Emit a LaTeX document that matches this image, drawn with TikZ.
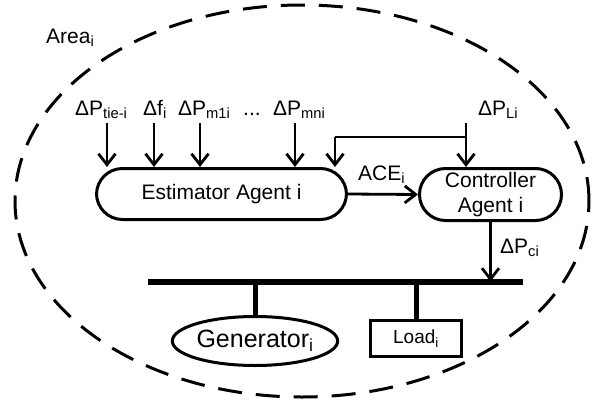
\documentclass[tikz,border=0pt]{standalone}
\usepackage{fontspec}
\setmainfont{Liberation Sans}
\usetikzlibrary{arrows.meta,shapes.geometric}

\tikzstyle{signal} = [font=\fontsize{21}{25}\selectfont,inner sep=0pt]
\tikzstyle{agent} = [draw,line width=3pt,rounded corners=26pt,align=center,font=\fontsize{21}{25}\selectfont]
\tikzstyle{arrowdecorate} = [line width=2.8pt,-{Straight Barb[length=11pt,width=17pt]}]
\tikzstyle{plain} = [line width=2.8pt]
\tikzstyle{bus} = [line width=6pt]
\tikzstyle{stub} = [line width=5pt]
\tikzstyle{area} = [line width=3pt,dash pattern=on 24pt off 14pt]

\begin{document}
\begin{tikzpicture}[x=1pt,y=-1pt]
    \useasboundingbox (0,0) rectangle (598,402);

    % area boundary
    \draw[area] (302,201) ellipse [x radius=287pt, y radius=196pt];
    \node[signal, anchor=base west] (area) at (46,43) {Area\textsubscript{i}};

    % agents
    \node[agent, minimum width=250pt, minimum height=51pt] (est) at (221.5,194) {Estimator Agent i};
    \node[agent, minimum width=142pt, minimum height=52pt] (ctrl) at (490.5,194.5) {Controller\\Agent i};

    % measured inputs
    \foreach \nodename/\txt/\lx/\ax in {
      tie/{ΔP\textsubscript{tie-i}}/75/107,
      f/{Δf\textsubscript{i}}/143/154,
      mone/{ΔP\textsubscript{m1i}}/178/200,
      mn/{ΔP\textsubscript{mni}}/273/295}
    {
      \node[signal, anchor=base west] (\nodename) at (\lx,115) {\txt};
      \coordinate (\nodename in) at (\ax,123);
      \draw[arrowdecorate] (\nodename in) -- (\nodename in |- est.north);
    }
    \node[signal, anchor=base west] (dots) at (243,115) {...};

    % load change goes to both agents
    \node[signal, anchor=base west] (li) at (478,115) {ΔP\textsubscript{Li}};
    \coordinate (li in) at (466,123);
    \coordinate (split) at (466,137);
    \coordinate (fb) at (335,137);
    \draw[arrowdecorate] (li in) -- (li in |- ctrl.north);
    \draw[plain] (split) -- (fb);
    \draw[arrowdecorate] (fb) -- (fb |- est.north);

    % area control error
    \draw[arrowdecorate] (est.east) -- (ctrl.west);
    \node[signal, anchor=base west] (ace) at (358,180) {ACE\textsubscript{i}};

    % bus with generator and load
    \coordinate (busL) at (148,281.5);
    \coordinate (busR) at (523,281.5);
    \draw[bus] (busL) -- (busR);
    \node[draw, ellipse, line width=3pt, inner sep=0pt, minimum width=151pt, minimum height=49pt,
      font=\fontsize{25}{28}\selectfont] (gen) at (255,341) {Generator\textsubscript{i}};
    \node[draw, rectangle, line width=3pt, minimum width=91pt, minimum height=36pt,
      font=\fontsize{19}{22}\selectfont] (load) at (416,338.5) {Load\textsubscript{i}};
    \draw[stub] (gen.north) -- (gen.north |- busL);
    \draw[stub] (load.north) -- (load.north |- busL);

    % control signal to the bus
    \draw[arrowdecorate] (ctrl.south) -- (ctrl.south |- busL);
    \node[signal, anchor=base west] (pc) at (500,253) {ΔP\textsubscript{ci}};
\end{tikzpicture}
\end{document}
